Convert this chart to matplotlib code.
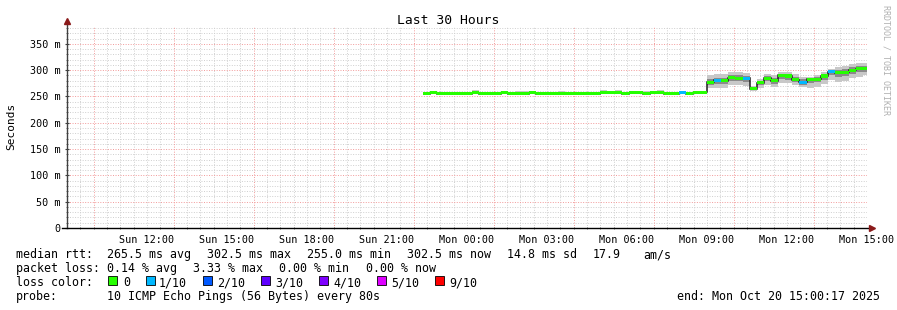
import numpy as np
import matplotlib
matplotlib.use("Agg")
import matplotlib.pyplot as plt
from matplotlib.patches import Rectangle

plt.rcParams["font.family"] = "DejaVu Sans Mono"

# ── data (ms, one bin = 16 min, first bin starts Sun 22:20) ──────────
BIN_H = 16 / 60
FIRST_BIN_H = 13 + 20 / 60          # hours after Sun 09:00

median = [255, 257, 255, 255, 255, 255, 255, 257, 255, 255,
          255, 257, 255, 255, 255, 257, 255, 255, 255, 255,
          255, 255, 255, 255, 255, 257, 257, 257, 255, 257,
          257, 255, 257, 257, 255, 255, 257, 255, 257, 258,
          277, 281, 280, 286, 285, 285, 265, 276, 285, 280,
          290, 289, 282, 277, 283, 283, 289, 297, 295, 296,
          300, 302.5, 302.5]
smoke_lo = [254, 256, 254, 254, 254, 254, 254, 256, 254, 254,
            254, 256, 254, 254, 254, 256, 254, 254, 254, 254,
            254, 254, 254, 254, 254, 256, 256, 256, 254, 256,
            256, 254, 256, 256, 254, 254, 256, 254, 256, 257,
            266, 266, 267, 272, 272, 270, 260, 266, 272, 268,
            276, 276, 272, 268, 266, 268, 274, 282, 278, 280,
            285, 288, 290]
smoke_hi = [256, 258, 256, 256, 256, 256, 256, 262, 256, 256,
            256, 261, 256, 261, 261, 258, 256, 256, 256, 260,
            256, 256, 256, 256, 256, 262, 258, 263, 256, 258,
            261, 260, 258, 262, 256, 256, 258, 256, 258, 261,
            291, 292, 292, 296, 296, 294, 270, 284, 292, 290,
            297, 296, 292, 287, 288, 290, 296, 302, 306, 308,
            311, 314, 314]
inner_lo = [254, 256, 254, 254, 254, 254, 254, 256, 254, 254,
            254, 256, 254, 254, 254, 256, 254, 254, 254, 254,
            254, 254, 254, 254, 254, 256, 256, 256, 254, 256,
            256, 254, 256, 256, 254, 254, 256, 254, 256, 257,
            272, 274, 274, 279, 279, 278, 262, 271, 279, 274,
            283, 282, 277, 272, 276, 277, 282, 290, 288, 289,
            293, 296, 296]
inner_hi = [256, 258, 256, 256, 256, 256, 256, 259, 256, 256,
            256, 258, 256, 258, 258, 258, 256, 256, 256, 257,
            256, 256, 256, 256, 256, 259, 258, 259, 256, 258,
            258, 257, 258, 259, 256, 256, 258, 256, 258, 259,
            284, 286, 286, 291, 291, 289, 268, 280, 289, 285,
            293, 293, 287, 283, 286, 287, 293, 300, 301, 302,
            306, 308, 308]
loss_idx = [0] * 36 + [1] + [0] * 4 + [1] + [0] * 3 + [1] + [0] * 7 + [1] + [0] * 3 + [1] + [0] * 5

loss_colors = ["#26ff00", "#00b8ff", "#0059ff", "#5e00ff", "#7e00ff", "#dd00ff", "#ff0000"]
loss_labels = ["0", "1/10", "2/10", "3/10", "4/10", "5/10", "9/10"]

xlabels = ["Sun 12:00", "Sun 15:00", "Sun 18:00", "Sun 21:00", "Mon 00:00",
           "Mon 03:00", "Mon 06:00", "Mon 09:00", "Mon 12:00", "Mon 15:00"]
xlabel_pos = [3, 6, 9, 12, 15, 18, 21, 24, 27, 30]
ytick_vals = [0, 50, 100, 150, 200, 250, 300, 350]

# ── figure ───────────────────────────────────────────────────────────
W, H = 897, 310
fig = plt.figure(figsize=(W / 100, H / 100), dpi=100)
fig.patch.set_facecolor("white")

ax = fig.add_axes([67 / W, 1 - 228 / H, 800 / W, 202 / H])
ax.set_xlim(0, 30)
ax.set_ylim(0, 384)
for s in ax.spines.values():
    s.set_visible(False)

# grid
dots = (0, (1, 1.6))
for v in range(10, 384, 10):
    if v % 50:
        ax.axhline(v, color="#cfcfcf", lw=0.7, ls=dots, zorder=0.5)
for v in ytick_vals[1:]:
    ax.axhline(v, color="#f29a9a", lw=0.7, ls=dots, zorder=0.6)
for h in np.arange(0.5, 30, 0.5):
    if (h - 1) % 3:
        ax.axvline(h, color="#cfcfcf", lw=0.7, ls=dots, zorder=0.5)
for h in range(1, 30, 3):
    ax.axvline(h, color="#f29a9a", lw=0.7, ls=dots, zorder=0.6)

# smoke + median
n = len(median)
edges = FIRST_BIN_H + BIN_H * np.arange(n + 1)
med = np.array(median)
ax.bar(edges[:-1], np.subtract(smoke_hi, smoke_lo), bottom=smoke_lo, width=BIN_H,
       align="edge", color="#c8c8c8", lw=0, zorder=2)
ax.bar(edges[:-1], np.subtract(inner_hi, inner_lo), bottom=inner_lo, width=BIN_H,
       align="edge", color="#8a8a8a", lw=0, zorder=2.1)
ax.stairs(med, edges, baseline=None, color="#202020", lw=1.1, zorder=3)
ax.bar(edges[:-1], 6, bottom=med - 3, width=BIN_H, align="edge",
       color=[loss_colors[i] for i in loss_idx], lw=0, zorder=4)

# ticks
ax.set_yticks(ytick_vals)
ax.set_yticklabels([f"{v} m" if v else "0" for v in ytick_vals])
ax.set_yticks(range(10, 384, 10), minor=True)
ax.set_xticks(xlabel_pos)
ax.set_xticklabels(xlabels)
ax.set_xticks(np.arange(0.5, 30, 0.5), minor=True)
ax.tick_params(axis="y", which="major", length=3, direction="inout", width=0.8,
               color="#404040", labelsize=7.3, pad=3)
ax.tick_params(axis="y", which="minor", length=2, direction="inout", width=0.6, color="#606060")
ax.tick_params(axis="x", which="major", length=0, labelsize=7.3, pad=5)
ax.tick_params(axis="x", which="minor", length=2, direction="inout", width=0.6, color="#606060")

# axes lines with arrows
ax.plot([0, 0], [0, 1.02], transform=ax.transAxes, color="#404040", lw=1, clip_on=False, zorder=5)
ax.plot([-0.006, 1.004], [0, 0], transform=ax.transAxes, color="#000000", lw=1, clip_on=False, zorder=5)
ax.plot([0], [1.025], transform=ax.transAxes, marker="^", ms=4, color="#8b1a1a", clip_on=False, zorder=6)
ax.plot([1.006], [0], transform=ax.transAxes, marker=">", ms=4, color="#8b1a1a", clip_on=False, zorder=6)

# ── texts ────────────────────────────────────────────────────────────
def ftext(x, y, s, **kw):
    kw.setdefault("size", 8.4)
    kw.setdefault("va", "baseline")
    return fig.text(x / W, 1 - y / H, s, **kw)

ftext(448, 24, "Last 30 Hours", size=9.4, ha="center")
ftext(11, 126, "Seconds", size=8, rotation=90, ha="center", va="center")
ftext(886, 5, "RRDTOOL / TOBI OETIKER", size=6, rotation=270, ha="center", va="top", color="#b0b0b0")

ftext(16, 258, "median rtt:")
for x, s in [(107, "265.5 ms avg"), (207, "302.5 ms max"), (307, "255.0 ms min"),
             (407, "302.5 ms now"), (507, "14.8 ms sd"), (593, "17.9"), (643, "am/s")]:
    ftext(x, 258, s)

ftext(16, 272, "packet loss:")
for x, s in [(107, "0.14 % avg"), (193, "3.33 % max"), (279, "0.00 % min"), (366, "0.00 % now")]:
    ftext(x, 272, s)

ftext(16, 286, "loss color:")
box_x = [108, 146, 203, 261, 319, 377, 435]
lab_x = [123, 159, 217, 275, 333, 391, 449]
for bx, lx, c, lab in zip(box_x, lab_x, loss_colors, loss_labels):
    fig.add_artist(Rectangle((bx / W, 1 - 284.5 / H), 8.5 / W, 8.5 / H, transform=fig.transFigure,
                             facecolor=c, edgecolor="black", lw=0.6))
    ftext(lx, 286, lab)

ftext(16, 300, "probe:")
ftext(107, 300, "10 ICMP Echo Pings (56 Bytes) every 80s")
ftext(880, 300, "end: Mon Oct 20 15:00:17 2025", ha="right")

fig.savefig("out.png", dpi=100, facecolor="white")
